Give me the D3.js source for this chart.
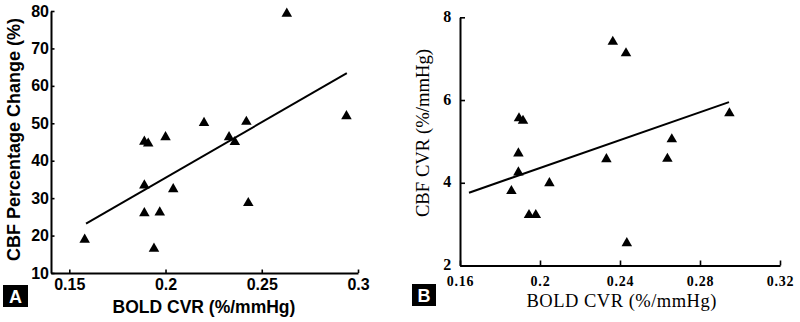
<!DOCTYPE html>
<html><head><meta charset="utf-8">
<script src="https://cdn.jsdelivr.net/npm/d3@7"></script>
<style>
html,body{margin:0;padding:0;background:#fff;}
svg{display:block;}
</style></head>
<body>
<svg id="chart" width="800" height="322"></svg>
<script>
// Panel A data
const aX = [0.158, 0.263, 0.294, 0.220, 0.242, 0.200, 0.189, 0.191, 0.233, 0.236, 0.189, 0.204, 0.189, 0.197, 0.243, 0.194];
const aY = [18.9, 79.3, 51.9, 50.1, 50.4, 46.3, 45.1, 44.6, 46.3, 45.0, 33.4, 32.4, 26.0, 26.2, 28.7, 16.5];
const aFitX = [0.1587, 0.2942];
const aFitY = [23.2, 63.4];
const aXTicks = [0.15, 0.2, 0.25, 0.3];
const aYTicks = [10, 20, 30, 40, 50, 60, 70, 80];

// Panel B data
const bX = [0.2364, 0.243, 0.1895, 0.1915, 0.2947, 0.2659, 0.2332, 0.2637, 0.1892, 0.1892, 0.2047, 0.1857, 0.1945, 0.1979, 0.2434];
const bY = [7.41, 7.13, 5.56, 5.50, 5.68, 5.05, 4.57, 4.58, 4.71, 4.25, 3.99, 3.80, 3.22, 3.22, 2.54];
const bFitX = [0.1645, 0.2945];
const bFitY = [3.76, 5.95];
const bXTicks = [0.16, 0.2, 0.24, 0.28, 0.32];
const bYTicks = [2, 4, 6, 8];

const svg = d3.select("#chart");
const tri = d3.symbol().type(d3.symbolTriangle).size(48);

function panel(cfg) {
  const g = svg.append("g");
  const x = d3.scaleLinear().domain(cfg.xDomain).range(cfg.xRange);
  const y = d3.scaleLinear().domain(cfg.yDomain).range(cfg.yRange);

  const xa = g.append("g").attr("transform", `translate(0,${cfg.yRange[0]})`)
    .call(d3.axisBottom(x).tickValues(cfg.xTicks).tickFormat(d => cfg.xFmt(d))
      .tickSizeInner(-cfg.tick).tickSizeOuter(0).tickPadding(cfg.xPad));
  const ya = g.append("g").attr("transform", `translate(${cfg.xRange[0]},0)`)
    .call(d3.axisLeft(y).tickValues(cfg.yTicks).tickFormat(d => d)
      .tickSizeInner(-cfg.tick).tickSizeOuter(0).tickPadding(cfg.yPad));
  [xa, ya].forEach(a => {
    a.selectAll("path.domain").attr("stroke", "#000").attr("stroke-width", 2);
    a.selectAll(".tick line").attr("stroke", "#000").attr("stroke-width", 1.6);
    a.selectAll("text").attr("fill", "#000").style("font-family", cfg.font)
      .style("font-weight", "bold");
  });
  xa.selectAll("text").style("font-size", cfg.xTickSize + "px").style("letter-spacing", cfg.ls);
  ya.selectAll("text").style("font-size", cfg.yTickSize + "px").style("letter-spacing", cfg.ls)
    .attr("dy", cfg.yDy);

  g.append("line")
    .attr("x1", x(cfg.fitX[0])).attr("y1", y(cfg.fitY[0]))
    .attr("x2", x(cfg.fitX[1])).attr("y2", y(cfg.fitY[1]))
    .attr("stroke", "#000").attr("stroke-width", 2);

  g.selectAll("path.pt").data(cfg.xs).enter().append("path")
    .attr("class", "pt")
    .attr("d", tri)
    .attr("transform", (d, i) => `translate(${x(d)},${y(cfg.ys[i])})`)
    .attr("fill", "#000");

  g.append("text").attr("x", cfg.xTitlePos[0]).attr("y", cfg.xTitlePos[1])
    .attr("text-anchor", "middle").style("font-family", cfg.font)
    .style("font-weight", cfg.titleWeight).style("font-size", cfg.xTitleSize + "px")
    .style("letter-spacing", cfg.titleLs)
    .text(cfg.xTitle);
  g.append("text").attr("transform", `translate(${cfg.yTitlePos[0]},${cfg.yTitlePos[1]}) rotate(-90)`)
    .attr("text-anchor", "middle").style("font-family", cfg.font)
    .style("font-weight", cfg.titleWeight).style("font-size", cfg.yTitleSize + "px")
    .text(cfg.yTitle);

  g.append("rect").attr("x", cfg.box[0]).attr("y", cfg.box[1])
    .attr("width", cfg.box[2]).attr("height", cfg.box[3]).attr("fill", "#000");
  g.append("text").attr("x", cfg.box[0] + cfg.box[2] / 2).attr("y", cfg.box[1] + cfg.box[3] / 2 + 6.5)
    .attr("text-anchor", "middle").attr("fill", "#fff")
    .style("font-family", "'Liberation Sans', Arial, sans-serif").style("font-weight", "bold")
    .style("font-size", "18px").text(cfg.label);
}

panel({
  xDomain: [0.1405, 0.3], xRange: [51, 358],
  yDomain: [10, 80], yRange: [273, 11],
  xTicks: aXTicks, yTicks: aYTicks, xFmt: d => String(d),
  tick: 3.5, xPad: 6, yPad: 2, yDy: "0.32em",
  font: "'Liberation Sans', Arial, sans-serif", ls: "0px",
  xTickSize: 16, yTickSize: 16,
  fitX: aFitX, fitY: aFitY, xs: aX, ys: aY,
  xTitle: "BOLD CVR (%/mmHg)", xTitlePos: [204, 313], xTitleSize: 17.5, titleLs: "0px",
  yTitle: "CBF Percentage Change (%)", yTitlePos: [20, 139.5], yTitleSize: 18,
  titleWeight: "bold",
  box: [3, 285, 25, 22], label: "A"
});

panel({
  xDomain: [0.16, 0.32], xRange: [460, 780],
  yDomain: [2, 8], yRange: [265.5, 17.3],
  xTicks: bXTicks, yTicks: bYTicks, xFmt: d => String(d),
  tick: 5, xPad: 11, yPad: 8, yDy: "0.25em",
  font: "'Liberation Serif', 'Times New Roman', serif", ls: "0.8px",
  xTickSize: 14, yTickSize: 16,
  fitX: bFitX, fitY: bFitY, xs: bX, ys: bY,
  xTitle: "BOLD CVR (%/mmHg)", xTitlePos: [621.7, 306.5], xTitleSize: 18.5, titleLs: "0.5px",
  yTitle: "CBF CVR (%/mmHg)", yTitlePos: [429, 133], yTitleSize: 18.7,
  titleWeight: "normal",
  box: [412, 284, 24, 22], label: "B"
});
</script>
</body></html>
